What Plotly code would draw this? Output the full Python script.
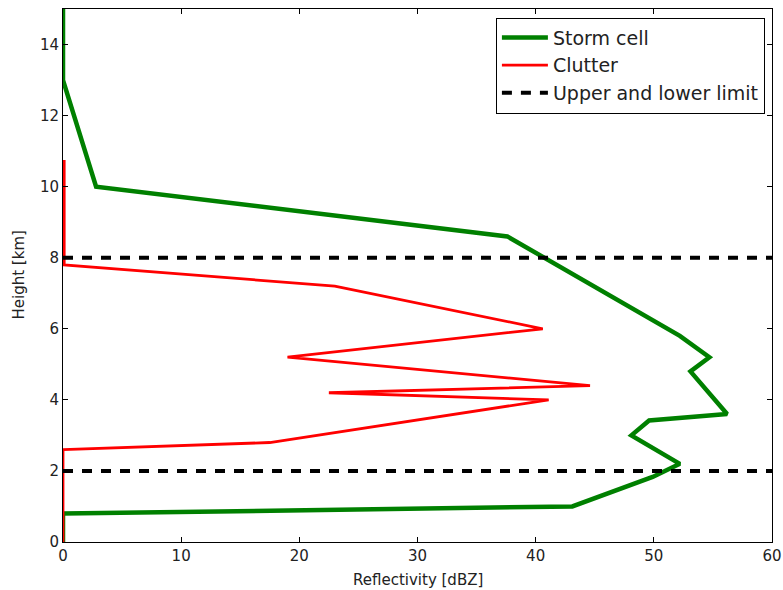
import plotly.graph_objects as go

# Storm cell profile (reflectivity dBZ, height km)
storm_dbz = [0, 0, 2.8, 37.6, 52.2, 54.7, 53.1, 56.2, 49.6, 48.1, 52.2, 49.9, 43.1, 0, 0]
storm_km = [15, 13, 10, 8.6, 5.8, 5.2, 4.8, 3.6, 3.42, 3.0, 2.2, 1.83, 1.0, 0.8, 0]

# Clutter profile
clutter_dbz = [0.1, 0.1, 23.0, 40.6, 19.0, 44.6, 22.5, 41.1, 17.5, 0, 0]
clutter_km = [10.75, 7.8, 7.2, 6.0, 5.2, 4.4, 4.2, 4.0, 2.8, 2.6, 0]

# Upper and lower limit
limit_km = [8, 2]
x_range = [0, 60]
y_range = [0, 15]
x_ticks = [0, 10, 20, 30, 40, 50, 60]
y_ticks = [0, 2, 4, 6, 8, 10, 12, 14]

FONT = "DejaVu Sans"

fig = go.Figure()
fig.add_trace(go.Scatter(x=storm_dbz, y=storm_km, mode="lines", name="Storm cell",
                         line=dict(color="#008000", width=4.5)))
fig.add_trace(go.Scatter(x=clutter_dbz, y=clutter_km, mode="lines", name="Clutter",
                         line=dict(color="#ff0000", width=2.8)))
for i, h in enumerate(limit_km):
    fig.add_trace(go.Scatter(x=x_range, y=[h, h], mode="lines",
                             name="Upper and lower limit", showlegend=(i == 0),
                             legendgroup="lim",
                             line=dict(color="black", width=4, dash="10px,9px")))

axis_common = dict(showgrid=False, zeroline=False, showline=True, linecolor="black",
                   linewidth=1, mirror="allticks", ticks="inside", ticklen=5,
                   tickcolor="black", automargin=False,
                   tickfont=dict(family=FONT, size=15, color="#222"))

fig.update_layout(
    width=783, height=590,
    margin=dict(l=63, r=11, t=9, b=48),
    plot_bgcolor="white", paper_bgcolor="white",
    font=dict(family=FONT, color="#222"),
    xaxis=dict(range=x_range, tickvals=x_ticks, **axis_common),
    yaxis=dict(range=y_range, tickvals=y_ticks, **axis_common),
    legend=dict(x=0.99, y=0.984, xanchor="right", yanchor="top",
                bgcolor="white", bordercolor="black", borderwidth=1, itemwidth=46,
                font=dict(family=FONT, size=19, color="#222"), tracegroupgap=0),
    showlegend=True,
    annotations=[
        dict(text="Reflectivity [dBZ]", xref="paper", yref="paper", x=0.5, y=-0.0,
             yshift=-38, xanchor="center", yanchor="middle", showarrow=False,
             font=dict(family=FONT, size=15, color="#222")),
        dict(text="Height [km]", xref="paper", yref="paper", x=0, y=0.5,
             xshift=-45, xanchor="center", yanchor="middle", showarrow=False,
             textangle=-90, font=dict(family=FONT, size=15, color="#222")),
    ],
)

fig.write_html("out.html", config={"displayModeBar": False},
               post_script="document.body.style.margin='0';")
